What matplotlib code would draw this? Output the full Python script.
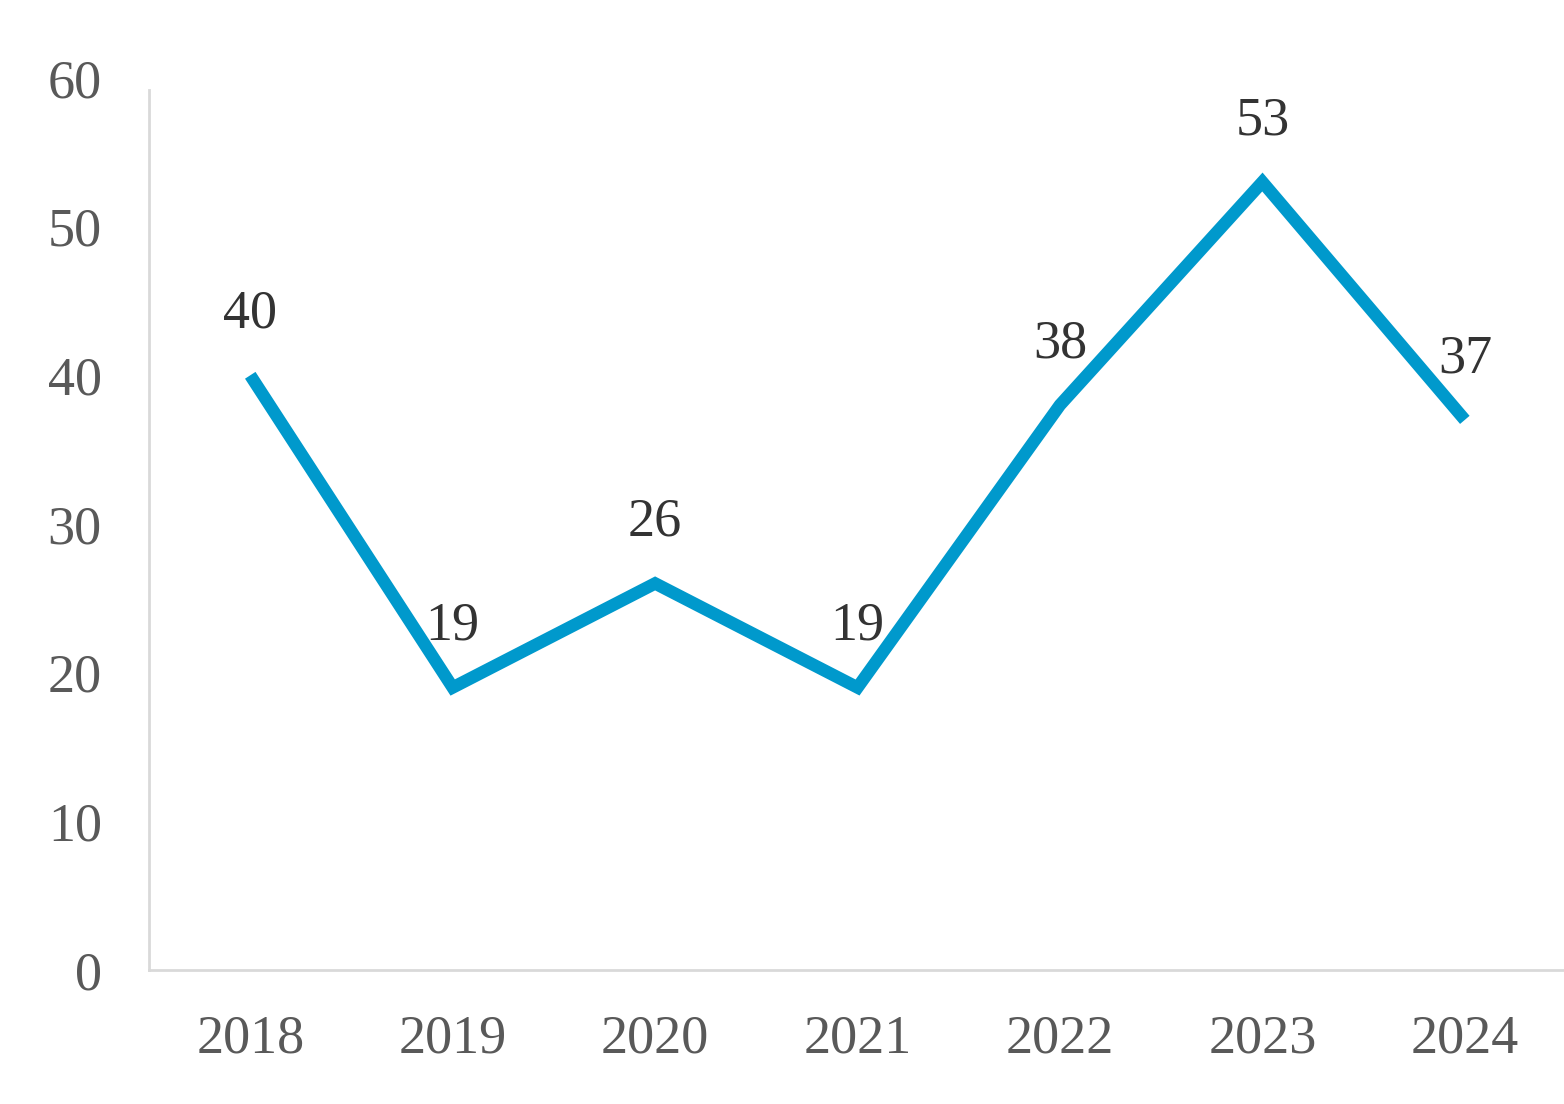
import matplotlib.pyplot as plt

years = ['2018', '2019', '2020', '2021', '2022', '2023', '2024']
values = [40, 19, 26, 19, 38, 53, 37]
y_ticks = [0, 10, 20, 30, 40, 50, 60]

plt.rcParams['font.family'] = ['Liberation Serif', 'DejaVu Serif']

fig = plt.figure(figsize=(15.64, 11.04), dpi=100)
ax = fig.add_axes([0.0953, 0.1214, 0.906, 0.808])

x = list(range(len(years)))
ax.plot(x, values, color='#0099cc', linewidth=9,
        solid_joinstyle='miter', solid_capstyle='butt')

for xi, v in zip(x, values):
    ax.annotate(str(v), (xi, v), xytext=(0, 44), textcoords='offset points',
                ha='center', va='center', fontsize=39, color='#333333')

ax.set_xlim(-0.5, len(years) - 0.5)
ax.set_ylim(0, 60)
ax.set_xticks(x)
ax.set_xticklabels(years)
ax.set_yticks(y_ticks)

ax.tick_params(axis='both', length=0, labelsize=39, colors='#595959')
ax.tick_params(axis='x', pad=32)
ax.tick_params(axis='y', pad=34)

for s in ['top', 'right']:
    ax.spines[s].set_visible(False)
for s in ['left', 'bottom']:
    ax.spines[s].set_color('#d9d9d9')
    ax.spines[s].set_linewidth(2)
ax.spines['left'].set_bounds(0, 59.2)

fig.savefig('out.png', dpi=100)
